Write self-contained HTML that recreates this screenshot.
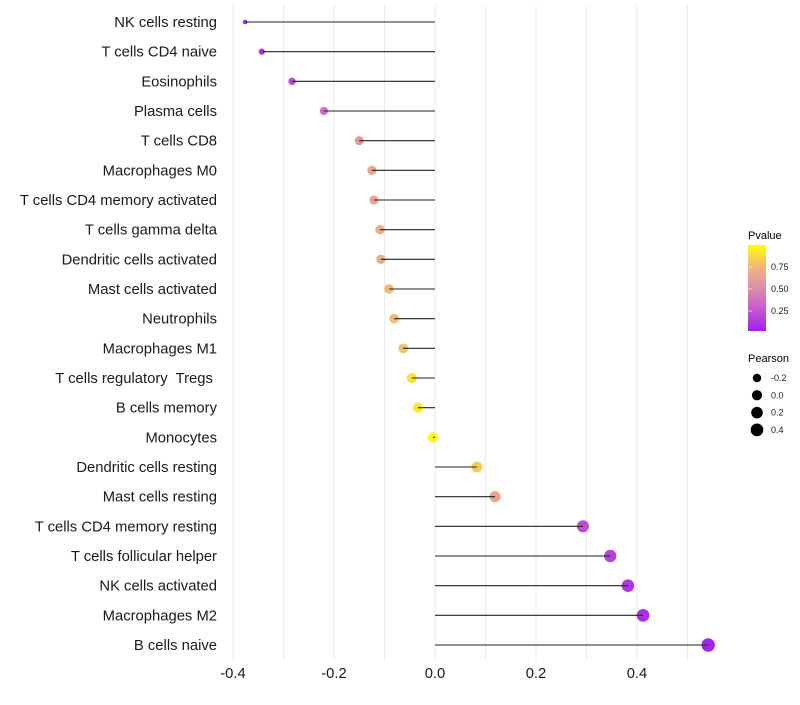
<!DOCTYPE html>
<html><head><meta charset="utf-8"><style>
body{margin:0;background:#fff;}
svg text{font-family:"Liberation Sans",Arial,sans-serif;white-space:pre;}
</style></head><body>
<svg id="chart" width="800" height="700" viewBox="0 0 800 700">
<defs><linearGradient id="pg" x1="0" y1="1" x2="0" y2="0">
<stop offset="0" stop-color="#a020f0"/><stop offset="0.25" stop-color="#c45acc"/><stop offset="0.5" stop-color="#dc8fa8"/><stop offset="0.75" stop-color="#f0b67e"/><stop offset="1" stop-color="#ffff00"/>
</linearGradient></defs>
<g id="grid"></g>
<g id="marks"></g>
<g id="ylabels"></g>
<g id="xlabels"></g>
<g>
<text x="748" y="239" font-size="11">Pvalue</text>
<rect x="748" y="245" width="18" height="86" fill="url(#pg)"/>
<g id="cbticks"></g>
</g>
<g id="sizeleg">
<text x="748" y="362" font-size="11">Pearson</text>
</g>
</svg>
<script>
const categories=["NK cells resting","T cells CD4 naive","Eosinophils","Plasma cells","T cells CD8","Macrophages M0","T cells CD4 memory activated","T cells gamma delta","Dendritic cells activated","Mast cells activated","Neutrophils","Macrophages M1","T cells regulatory  Tregs ","B cells memory","Monocytes","Dendritic cells resting","Mast cells resting","T cells CD4 memory resting","T cells follicular helper","NK cells activated","Macrophages M2","B cells naive"];
const pearson=[-0.376,-0.343,-0.283,-0.220,-0.150,-0.125,-0.121,-0.109,-0.107,-0.091,-0.081,-0.063,-0.046,-0.034,-0.004,0.083,0.119,0.293,0.347,0.382,0.412,0.541];
const pvalue=[0.03,0.1,0.2,0.35,0.55,0.65,0.65,0.7,0.7,0.75,0.77,0.8,0.9,0.93,0.99,0.82,0.65,0.2,0.15,0.1,0.07,0.02];
const xTicks=[-0.4,-0.2,0.0,0.2,0.4];
const xTickLabels=["-0.4","-0.2","0.0","0.2","0.4"];
const gridVals=[-0.4,-0.3,-0.2,-0.1,0,0.1,0.2,0.3,0.4,0.5];
const cbTicks=[0.25,0.5,0.75];
const sizeLegend=[-0.2,0.0,0.2,0.4];
const NS="http://www.w3.org/2000/svg";
const xS=v=>435+v*505;
const yS=i=>22+i*(623/21);
const pMin=Math.min(...pearson),pMax=Math.max(...pearson);
const rS=v=>{const t=Math.max(0,Math.min(1,(v-pMin)/(pMax-pMin)));return 2.3+4.4*Math.sqrt(t);};
const cbY=p=>333-p*88;
const stops=[[0,[160,32,240]],[0.25,[196,90,204]],[0.5,[220,143,168]],[0.75,[240,182,126]],[1,[255,255,0]]];
function col(p){for(let k=1;k<stops.length;k++){if(p<=stops[k][0]){const a=stops[k-1],b=stops[k],t=(p-a[0])/(b[0]-a[0]);return 'rgb('+a[1].map((c,j)=>Math.round(c+(b[1][j]-c)*t)).join(',')+')';}}return 'rgb(255,255,0)';}
function mk(tag,attrs,parent){const e=document.createElementNS(NS,tag);for(const k in attrs)e.setAttribute(k,attrs[k]);parent.appendChild(e);return e;}
const grid=document.getElementById('grid'),marks=document.getElementById('marks'),yl=document.getElementById('ylabels'),xl=document.getElementById('xlabels');
gridVals.forEach(v=>{const l=mk('line',{x1:xS(v),x2:xS(v),y1:5,y2:660,stroke:'#ebebeb','stroke-width':1},grid);

});
categories.forEach((c,i)=>{
const y=yS(i);
const dot=mk('circle',{cx:xS(pearson[i]),cy:y,r:rS(pearson[i]),fill:col(pvalue[i])},marks);


const ln=mk('line',{x1:xS(0),x2:xS(pearson[i]),y1:y,y2:y,stroke:'#222','stroke-width':1.1},marks);


const t=mk('text',{x:217,y:y+5,'text-anchor':'end','font-size':14.8,fill:'#1a1a1a'},yl);
t.textContent=c;


});
xTicks.forEach((v,i)=>{const t=mk('text',{x:xS(v),y:678,'text-anchor':'middle','font-size':14.8,fill:'#1a1a1a'},xl);
t.textContent=xTickLabels[i];

});
const cb=document.getElementById('cbticks');
cbTicks.forEach(p=>{
const l=mk('line',{x1:748,x2:752,y1:cbY(p),y2:cbY(p),stroke:'#fff','stroke-opacity':0.6},cb);


const t=mk('text',{x:771,y:cbY(p)+3,'font-size':9,fill:'#1a1a1a'},cb);
t.textContent=p.toFixed(2);

});
const sl=document.getElementById('sizeleg');
sizeLegend.forEach((v,i)=>{const y=378+i*17.3;
const c=mk('circle',{cx:757,cy:y,r:rS(v),fill:'#000'},sl);


const t=mk('text',{x:771,y:y+3,'font-size':9,fill:'#1a1a1a'},sl);
t.textContent=v.toFixed(1);

});
</script>
</body></html>
